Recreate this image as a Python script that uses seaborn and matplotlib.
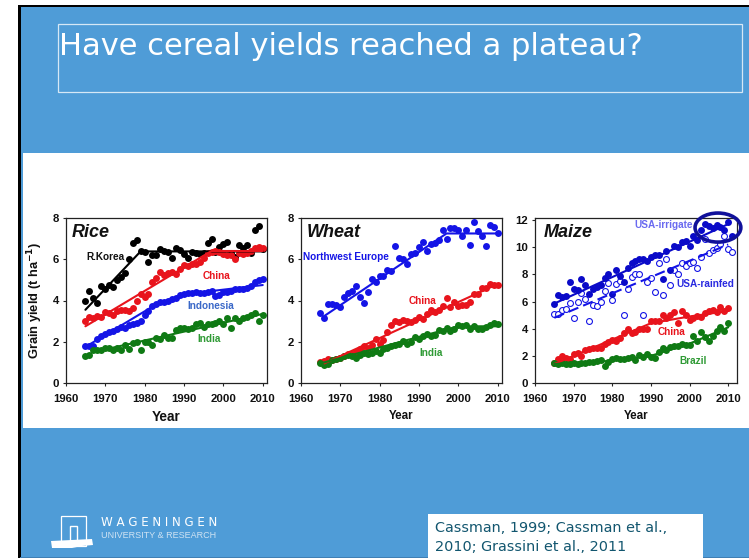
import seaborn as sns
import matplotlib.pyplot as plt
import pandas as pd
from matplotlib.patches import Rectangle, Ellipse, Polygon

sns.set_theme(style="white")
plt.rcParams['font.family'] = ['Liberation Sans', 'DejaVu Sans']
# tick labels lose a weight set per label, so bold is the default here
plt.rcParams['font.weight'] = 'bold'

W, H = 749, 560

# Rice
rice_years = list(range(1965, 2011))
rice_korea = [4.0, 4.45, 4.1, 3.9, 4.7, 4.55, 4.75, 4.65, 5.0, 5.15, 5.35, 6.0, 6.8, 6.95, 6.4, 6.35,
              5.85, 6.2, 6.2, 6.5, 6.4, 6.35, 6.05, 6.55, 6.45, 6.25, 6.05, 6.35, 6.3, 6.25, 6.3, 6.8,
              7.0, 6.35, 6.6, 6.75, 6.85, 6.3, 6.1, 6.7, 6.55, 6.7, 6.3, 7.4, 7.6, 6.5]
rice_china = [3.0, 3.2, 3.15, 3.25, 3.2, 3.45, 3.4, 3.3, 3.5, 3.55, 3.55, 3.5, 3.65, 4.0, 4.3, 4.15,
              4.3, 4.9, 5.1, 5.4, 5.25, 5.35, 5.4, 5.3, 5.55, 5.7, 5.65, 5.75, 5.75, 5.85, 6.05, 6.3,
              6.35, 6.4, 6.35, 6.25, 6.2, 6.2, 6.0, 6.3, 6.25, 6.3, 6.4, 6.55, 6.6, 6.55]
rice_indonesia = [1.8, 1.8, 1.8, 2.15, 2.3, 2.4, 2.45, 2.5, 2.6, 2.7, 2.65, 2.8, 2.85, 2.9, 3.0, 3.3,
                  3.5, 3.75, 3.85, 3.95, 3.95, 4.0, 4.05, 4.1, 4.25, 4.3, 4.35, 4.35, 4.4, 4.35, 4.35, 4.4,
                  4.45, 4.2, 4.25, 4.4, 4.4, 4.45, 4.55, 4.55, 4.55, 4.6, 4.7, 4.9, 5.0, 5.05]
rice_india = [1.3, 1.35, 1.6, 1.6, 1.6, 1.7, 1.7, 1.6, 1.7, 1.6, 1.85, 1.65, 1.95, 2.0, 1.6, 2.0,
              2.0, 1.85, 2.2, 2.15, 2.35, 2.2, 2.2, 2.55, 2.65, 2.65, 2.6, 2.65, 2.85, 2.9, 2.7, 2.85,
              2.85, 2.9, 3.0, 2.85, 3.15, 2.65, 3.15, 3.0, 3.15, 3.2, 3.3, 3.4, 3.0, 3.3]
rice_korea_fit = ([1965, 1979, 2010], [3.55, 6.38, 6.38])
rice_china_fit = ([1965, 1997, 2010], [2.75, 6.4, 6.4])
rice_indonesia_fit = ([1965, 1982, 1990, 2010], [1.75, 3.7, 4.3, 4.75])
rice_india_fit = ([1967, 2010], [1.5, 3.35])

# Wheat
wheat_years = list(range(1965, 2011))
wheat_europe = [3.4, 3.15, 3.85, 3.85, 3.8, 3.7, 4.15, 4.35, 4.45, 4.7, 4.15, 3.9, 4.4, 5.05, 4.9, 5.2,
                5.2, 5.5, 5.45, 6.65, 6.05, 6.0, 5.75, 6.25, 6.3, 6.6, 6.85, 6.4, 6.75, 6.8, 6.95, 7.4,
                7.0, 7.5, 7.5, 7.4, 7.15, 7.4, 6.7, 7.8, 7.35, 7.15, 6.65, 7.65, 7.55, 7.25]
wheat_china = [1.0, 1.05, 1.15, 1.1, 1.15, 1.2, 1.3, 1.4, 1.4, 1.5, 1.65, 1.8, 1.7, 1.85, 2.15, 1.9,
               2.1, 2.45, 2.8, 3.0, 2.95, 3.05, 3.0, 2.95, 3.05, 3.2, 3.1, 3.35, 3.55, 3.45, 3.55, 3.75,
               4.1, 3.7, 3.95, 3.75, 3.8, 3.8, 3.95, 4.3, 4.3, 4.6, 4.6, 4.8, 4.75, 4.75]
wheat_india = [0.95, 0.85, 0.9, 1.1, 1.15, 1.2, 1.3, 1.35, 1.3, 1.2, 1.35, 1.45, 1.4, 1.45, 1.55, 1.45,
               1.65, 1.7, 1.8, 1.85, 1.9, 2.05, 1.9, 2.0, 2.25, 2.15, 2.3, 2.4, 2.3, 2.35, 2.55, 2.5,
               2.65, 2.5, 2.6, 2.8, 2.75, 2.8, 2.6, 2.75, 2.6, 2.6, 2.7, 2.8, 2.9, 2.85]
wheat_europe_fit = ([1966, 1997, 2010], [3.25, 7.25, 7.25])
wheat_china_fit = ([1966, 2010], [0.95, 4.8])
wheat_india_fit = ([1965, 2000, 2010], [0.95, 2.75, 2.75])

# Maize
maize_years = list(range(1965, 2011))
maize_years_usa = list(range(1965, 2012))
maize_irrigated = [5.85, 6.45, 6.3, 6.4, 7.45, 6.9, 6.85, 7.65, 7.2, 6.55, 6.9, 7.1, 7.2, 7.75, 8.05, 6.55,
                   8.3, 7.85, 7.45, 8.5, 8.85, 8.95, 9.15, 9.15, 8.95, 9.25, 9.45, 9.4, 7.65, 9.75, 8.35, 10.1,
                   10.0, 10.35, 10.45, 10.1, 10.8, 10.5, 11.25, 11.7, 11.55, 11.45, 11.6, 11.5, 11.3, 11.85, 10.85]
maize_rainfed = [5.1, 5.1, 5.4, 5.45, 5.9, 4.8, 6.0, 6.6, 6.2, 4.55, 5.75, 5.7, 5.95, 6.8, 7.35, 6.1,
                 7.3, 7.5, 5.0, 6.9, 7.8, 8.05, 8.0, 5.0, 7.45, 7.75, 6.7, 8.8, 6.45, 9.15, 7.2, 8.3,
                 8.05, 8.8, 8.6, 8.85, 8.9, 8.5, 9.25, 10.6, 9.55, 9.8, 9.95, 10.25, 10.8, 9.9, 9.65]
maize_china = [1.45, 1.75, 2.0, 1.85, 1.8, 2.1, 2.2, 2.0, 2.4, 2.5, 2.6, 2.55, 2.6, 2.85, 3.0, 3.15,
               3.1, 3.3, 3.65, 4.0, 3.65, 3.75, 3.95, 4.0, 3.95, 4.55, 4.6, 4.6, 5.0, 4.75, 5.0, 5.2,
               4.45, 5.3, 5.0, 4.65, 4.8, 4.95, 4.85, 5.15, 5.3, 5.35, 5.2, 5.6, 5.3, 5.5]
maize_brazil = [1.45, 1.4, 1.45, 1.4, 1.4, 1.5, 1.4, 1.45, 1.45, 1.55, 1.55, 1.6, 1.7, 1.25, 1.55, 1.8,
                1.85, 1.8, 1.8, 1.85, 1.9, 1.7, 2.05, 1.95, 2.1, 1.95, 1.85, 2.3, 2.55, 2.4, 2.65, 2.7,
                2.7, 2.85, 2.8, 2.8, 3.45, 3.1, 3.75, 3.4, 3.1, 3.45, 3.85, 4.1, 3.8, 4.4]
maize_irrigated_fit = ([1965, 2010], [5.85, 11.7])
maize_rainfed_fit = ([1965, 2010], [4.8, 10.2])
maize_china_fit = ([1965, 1990, 2000, 2010], [1.4, 4.4, 4.9, 5.3])
maize_brazil_fit = ([1965, 1978, 1990, 2000, 2010], [1.4, 1.6, 2.0, 2.9, 4.1])

decades = [1960, 1970, 1980, 1990, 2000, 2010]

BG = '#4f9cd7'
BLACK, RED, BLUE, GREEN = '#000000', '#e8141c', '#1414e6', '#0f7a14'


def ax_px(x0, y0, x1, y1):
    return fig.add_axes([x0 / W, 1 - y1 / H, (x1 - x0) / W, (y1 - y0) / H], zorder=2)


def rect_px(x0, y0, x1, y1, **kw):
    fig.add_artist(Rectangle((x0 / W, 1 - y1 / H), (x1 - x0) / W, (y1 - y0) / H,
                             transform=fig.transFigure, zorder=-1, **kw))


def series(ax, years, values, fit, color, open_dots=False, dashed=False):
    df = pd.DataFrame({'year': years, 'yield': values})
    fit_df = pd.DataFrame({'year': fit[0], 'yield': fit[1]})
    if open_dots:
        sns.scatterplot(data=df, x='year', y='yield', ax=ax, s=18, facecolor='white',
                        edgecolor=color, linewidth=0.8, zorder=3, clip_on=False)
    else:
        sns.scatterplot(data=df, x='year', y='yield', ax=ax, s=25, color=color,
                        linewidth=0, zorder=3, clip_on=False)
    line = sns.lineplot(data=fit_df, x='year', y='yield', ax=ax, color=color, lw=1.5,
                        errorbar=None, zorder=4).lines[-1]
    if dashed:
        line.set_linestyle((0, (5, 2.5)))


def style(ax, xlim, ylim, yticks, title, xlab_size, title_xy):
    ax.set_facecolor('white')
    ax.set_xlim(*xlim)
    ax.set_ylim(*ylim)
    ax.tick_params(axis='x', direction='out', length=2, width=0.8, pad=6, bottom=True)
    ax.tick_params(axis='y', direction='out', length=2, width=0.8, pad=3, left=True)
    ax.set_xticks(decades, labels=[str(d) for d in decades], fontsize=8.2, color='#111111')
    ax.set_yticks(yticks, labels=[str(t) for t in yticks], fontsize=8.2, color='#111111')
    ax.set_xlabel('Year', fontsize=xlab_size, fontweight='bold', color='#111111', labelpad=4)
    ax.set_ylabel('')
    for s in ax.spines.values():
        s.set_visible(True)
        s.set_color('#222222')
        s.set_linewidth(0.9)
    ax.text(title_xy[0], title_xy[1], title, transform=ax.transAxes, fontsize=13,
            fontweight='bold', fontstyle='italic', color='#111111', va='center')


def label(ax, x, y, txt, color, size=7.2):
    ax.text(x, y, txt, color=color, fontsize=size, fontweight='bold', ha='center', va='center', zorder=6)


fig = plt.figure(figsize=(W / 100, H / 100), dpi=100, facecolor='white')

# slide background
rect_px(18, 5, 749, 558, facecolor=BG, edgecolor='none')
rect_px(18, 5, 749, 7, facecolor='black', edgecolor='none')
rect_px(18, 5, 20.5, 558, facecolor='black', edgecolor='none')
rect_px(20, 556.5, 749, 558, facecolor='#3f7fb4', edgecolor='none')
rect_px(23, 153, 749, 428, facecolor='white', edgecolor='none')
rect_px(57.5, 23.5, 742, 92, facecolor='none', edgecolor='#d6e8f6', linewidth=0.9)
fig.text(59 / W, 1 - 55 / H, 'Have cereal yields reached a plateau?', color='white',
         fontsize=22, family='DejaVu Sans', fontweight='normal', va='baseline', ha='left')

# Rice
ax = ax_px(65.7, 218, 266.7, 383)
series(ax, rice_years, rice_korea, rice_korea_fit, BLACK)
series(ax, rice_years, rice_china, rice_china_fit, RED)
series(ax, rice_years, rice_indonesia, rice_indonesia_fit, BLUE)
series(ax, rice_years, rice_india, rice_india_fit, GREEN)
style(ax, (1960, 2011), (0, 8), [0, 2, 4, 6, 8], 'Rice', 9.8, (0.03, 0.915))
ax.set_ylabel('Grain yield (t ha$\\mathbf{^{-1}}$)', fontsize=9.3, fontweight='bold', color='#111111', labelpad=5)
label(ax, 1970.1, 6.1, 'R.Korea', '#111111')
label(ax, 1998.3, 5.2, 'China', RED)
label(ax, 1996.9, 3.72, 'Indonesia', '#3a68c8')
label(ax, 1996.4, 2.13, 'India', '#2f9a35')

# Wheat
ax = ax_px(300.7, 218, 501.7, 383)
series(ax, wheat_years, wheat_china, wheat_china_fit, RED)
series(ax, wheat_years, wheat_india, wheat_india_fit, GREEN)
series(ax, wheat_years, wheat_europe, wheat_europe_fit, BLUE)
style(ax, (1960, 2011), (0, 8), [0, 2, 4, 6, 8], 'Wheat', 8.4, (0.03, 0.915))
label(ax, 1971.4, 6.09, 'Northwest Europe', BLUE)
label(ax, 1990.8, 3.96, 'China', RED)
label(ax, 1993, 1.45, 'India', '#2f9a35')

# Maize
ax = ax_px(535, 218, 736.7, 383)
series(ax, maize_years_usa, maize_rainfed, maize_rainfed_fit, BLUE, open_dots=True, dashed=True)
series(ax, maize_years_usa, maize_irrigated, maize_irrigated_fit, '#0a0ac8')
series(ax, maize_years, maize_china, maize_china_fit, RED)
series(ax, maize_years, maize_brazil, maize_brazil_fit, GREEN)
style(ax, (1960, 2012.2), (0, 12.15), [0, 2, 4, 6, 8, 10, 12], 'Maize', 8.4, (0.045, 0.91))
label(ax, 1993.4, 11.6, 'USA-irrigate', '#6a6af0')
label(ax, 2004, 7.3, 'USA-rainfed', '#2a2ae0')
label(ax, 1995.3, 3.73, 'China', RED)
label(ax, 2001, 1.6, 'Brazil', '#2f9a35')
ax.add_patch(Ellipse((0.907, 0.942), 0.227, 0.176, transform=ax.transAxes, facecolor='none',
                     edgecolor='#10109a', linewidth=2.6, clip_on=False, zorder=7))

# logo
rect_px(60.5, 516, 85.5, 546, facecolor='none', edgecolor='white', linewidth=0.9)
rect_px(70, 526, 76.5, 541, facecolor='none', edgecolor='white', linewidth=1.0)
fig.add_artist(Polygon([(51 / W, 1 - 541 / H), (92 / W, 1 - 539 / H), (93 / W, 1 - 545 / H),
                        (82 / W, 1 - 546 / H), (72 / W, 1 - 548 / H), (52 / W, 1 - 548 / H)],
                       closed=True, facecolor='white', edgecolor='none', transform=fig.transFigure))
fig.text(101 / W, 1 - 522 / H, 'W A G E N I N G E N', color='white', fontsize=8.6, va='center',
         family='DejaVu Sans', fontweight='normal')
fig.text(101 / W, 1 - 536 / H, 'UNIVERSITY & RESEARCH', color='#cfe3f3', fontsize=6.5, va='center',
         fontweight='normal')

# citation box
rect_px(428, 514, 703, 558, facecolor='white', edgecolor='none')
fig.text(435 / W, 1 - 528 / H, 'Cassman, 1999; Cassman et al.,', color='#12566f', fontsize=10.4,
         family='DejaVu Sans', fontweight='normal', va='center')
fig.text(435 / W, 1 - 547 / H, '2010; Grassini et al., 2011', color='#12566f', fontsize=10.4,
         family='DejaVu Sans', fontweight='normal', va='center')

fig.savefig('out.png', dpi=100)
